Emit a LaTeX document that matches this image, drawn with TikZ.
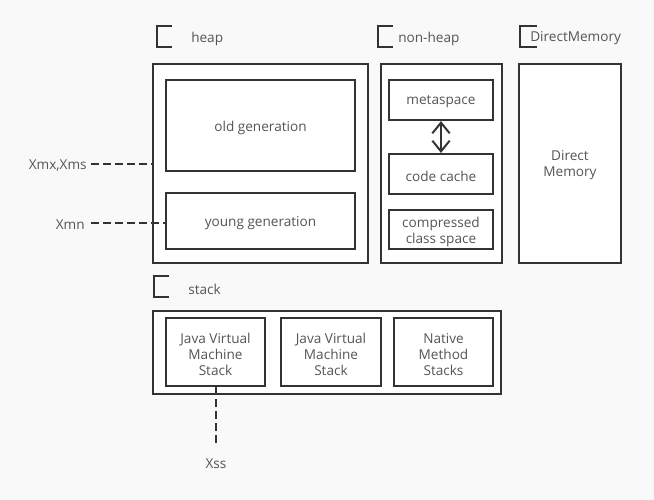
\documentclass[tikz,border=0pt]{standalone}
\usepackage{fontspec}
\setmainfont{Open Sans}
\usetikzlibrary{arrows.meta}
\definecolor{bg}{HTML}{F9F9F9}
\definecolor{ln}{HTML}{333333}
\definecolor{tx}{HTML}{555555}
\begin{document}
\begin{tikzpicture}[x=0.75pt,y=-0.75pt,
  box/.style={draw=ln,line width=1.6pt,fill=white,inner sep=0pt},
  sz/.style 2 args={minimum width=#1*0.75pt,minimum height=#2*0.75pt},
  lbl/.style={text=tx,font=\fontsize{10.2}{12}\selectfont,align=center,inner sep=0pt},
  in/.style={label={[lbl,yshift=-1.6pt]center:#1}},
  brk/.style={draw=ln,line width=1.6pt},
  dsh/.style={draw=ln,line width=1.5pt,dash pattern=on 6pt off 3pt}]
\useasboundingbox[fill=bg] (0,0) rectangle (654,500);
% heap
\draw[brk] (172,26) -- (157,26) -- (157,47) -- (172,47);
\node[lbl,anchor=west] (heapl) at (191,38.5) {heap};
\node[box,sz={215}{199}] (heap) at (260.5,163.5) {};
\node[box,sz={189}{91},in={old generation}] (old) at (260.5,125.5) {};
\node[box,sz={189}{56},in={young generation}] (young) at (260.5,221) {};
% non-heap
\draw[brk] (393,26) -- (378,26) -- (378,47) -- (393,47);
\node[lbl,anchor=west] (nonheapl) at (398,38.5) {non-heap};
\node[box,sz={121}{199}] (nonheap) at (441.5,163.5) {};
\node[box,sz={104}{40},in={metaspace}] (meta) at (441,100) {};
\node[box,sz={104}{40},in={code cache}] (code) at (441,174) {};
\node[box,sz={104}{39},in={compressed\\class space}] (comp) at (441,229.5) {};
\draw[draw=ln,line width=1.5pt,{Straight Barb[length=8pt,width=13pt]}-{Straight Barb[length=8pt,width=13pt]}]
  (meta.south) -- (code.north);
% direct memory
\draw[brk] (537,26) -- (520,26) -- (520,47) -- (537,47);
\node[lbl,anchor=west] (directl) at (530,38.5) {DirectMemory};
\node[box,sz={102}{199},in={Direct\\Memory}] (direct) at (570,163.5) {};
% left labels
\node[lbl,anchor=east] (xmx) at (87,165.5) {Xmx,Xms};
\node[lbl,anchor=east] (xmn) at (85,224.5) {Xmn};
\coordinate (xmxL) at (91,164);
\coordinate (xmnL) at (91,223);
\draw[dsh] (xmxL) -- (heap.west |- xmxL);
\draw[dsh] (xmnL) -- (young.west |- xmnL);
% stack
\draw[brk] (169,276) -- (154,276) -- (154,297) -- (169,297);
\node[lbl,anchor=west] (stackl) at (188,289.5) {stack};
\node[box,sz={348}{83}] (stack) at (327,352.5) {};
\node[box,sz={99}{68},in={Java Virtual\\Machine\\Stack}] (jvm1) at (215.5,352) {};
\node[box,sz={100}{68},in={Java Virtual\\Machine\\Stack}] (jvm2) at (331,352) {};
\node[box,sz={99}{68},in={Native\\Method\\Stacks}] (native) at (443.5,352) {};
\node[lbl] (xss) at (216,464) {Xss};
\coordinate (xssTop) at (216,444);
\draw[dsh] (jvm1.south) -- (jvm1.south |- xssTop);
\end{tikzpicture}
\end{document}
